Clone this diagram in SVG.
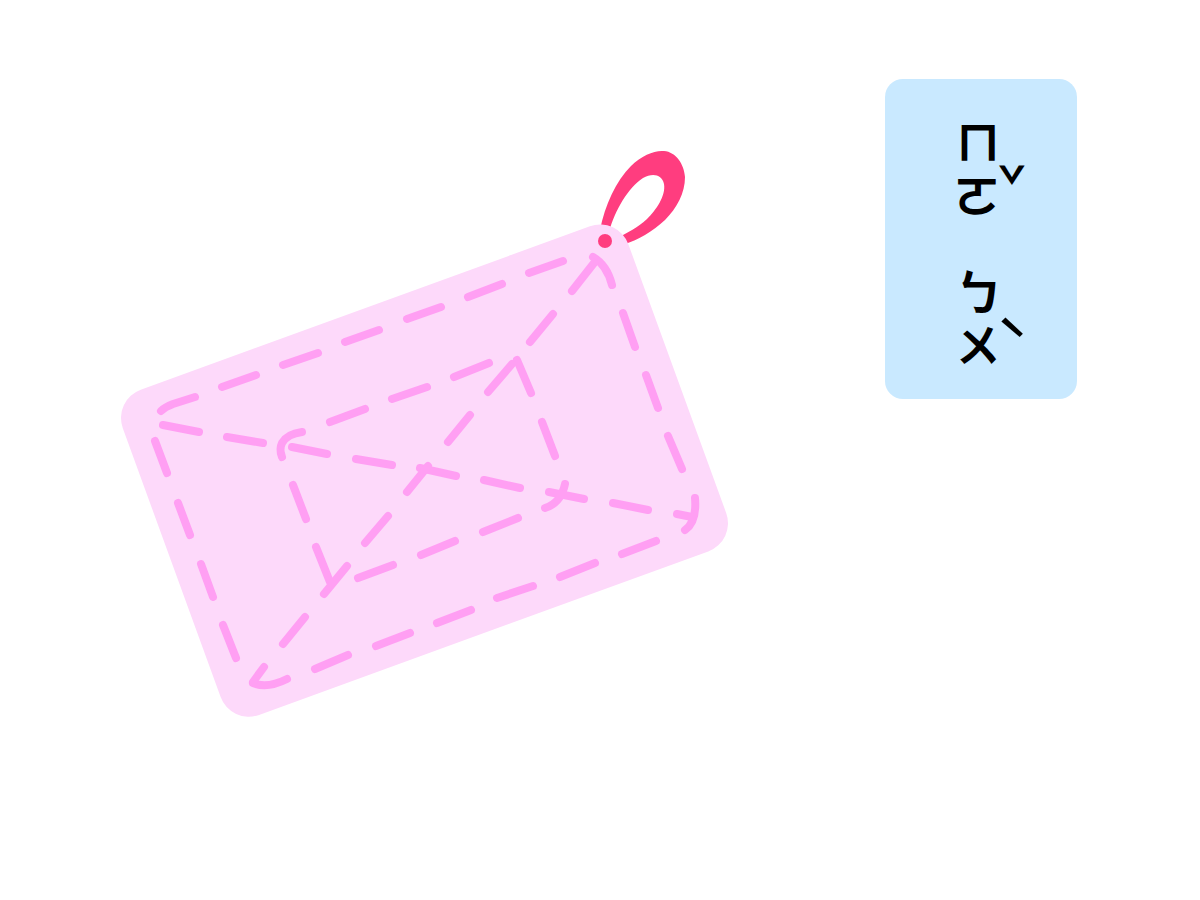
<svg xmlns="http://www.w3.org/2000/svg" width="1200" height="900" viewBox="0 0 1200 900">
<style>
.stitch{fill:none;stroke:#FF9FF3;stroke-width:8;stroke-linecap:round;stroke-linejoin:round}
.big{font-family:"Noto Sans CJK TC","Noto Sans CJK SC",sans-serif;font-size:44px;font-weight:700;fill:#000;text-anchor:middle}
</style>
<rect width="1200" height="900" fill="#fff"/>
<g id="loop"><path fill="#FF3D7F" fill-rule="evenodd" d="M600 230C605 205 616 181 631 166C642 155 655 150 664 151C676 152 684 164 685 177C685 193 677 208 665 220C652 232 638 240 625 244L612 236ZM609 232C615 210 628 188 643 178C652 173 662 174 664 184C666 196 656 210 647 219C637 228 628 232 618 238Z"/></g>
<g id="card">
<rect x="155.500" y="297.600" width="538" height="346" rx="30" ry="30" fill="#FDD9FA" transform="rotate(-20 424.500 470.600)"/>
<circle cx="605" cy="241" r="7" fill="#FF3D7F"/>
</g>
<g id="stitching">
<path class="stitch" d="M161 411Q165 407 173 404L195 397M222 387L256 375M283 365L318 353M345 342L379 330M407 319L441 307M468 297L502 284M529 273L563 261"/>
<path class="stitch" d="M155 441L167 473M178 503L190 535M201 564L213 597M223 625L236 658"/>
<path class="stitch" d="M287 679Q267 689 253 683M315 669L348 655M376 646L410 633M437 623L471 610M497 598L533 586M560 577L595 563M622 554L656 541"/>
<path class="stitch" d="M685 530Q697 522 695 498M682 469L668 436M658 408L646 375M635 347L623 313M612 285Q607 265 593 257"/>
<path class="stitch" d="M302 432Q287 434 282 443Q279 449 282 457M330 422L365 409M392 399L427 387M454 377L489 363"/>
<path class="stitch" d="M293 485L306 519M316 547L330 582"/>
<path class="stitch" d="M358 578L393 565M421 555L455 541M483 532L518 518M545 508Q561 503 565 484"/>
<path class="stitch" d="M517 360L531 393M542 422L555 456"/>
<path class="stitch" d="M163 425L199 432M227 437L263 443M292 447L327 454M356 459L392 465M420 468L456 476M484 480L520 488M549 492L584 499M613 503L648 510M677 514L692 517"/>
<path class="stitch" d="M253 682L264 667M283 644L305 617M324 594L347 566M365 543L388 516M407 492L428 466M448 442L470 415M488 392L512 364M530 342L553 314M572 291L594 263"/>
</g>
<g id="label">
<rect x="885" y="79" width="192" height="320" rx="18" ry="18" fill="#C9E9FF"/>
<text class="big"><tspan x="978" y="159">ㄇ</tspan><tspan x="977" y="213" font-size="47">ㄛ</tspan><tspan x="1012" y="205" font-size="48" font-weight="500">ˇ</tspan><tspan x="979" y="310" font-size="48">ㄅ</tspan><tspan x="978" y="362">ㄨ</tspan><tspan x="1012" y="363" font-size="54" font-weight="500">ˋ</tspan></text>
</g>
</svg>
